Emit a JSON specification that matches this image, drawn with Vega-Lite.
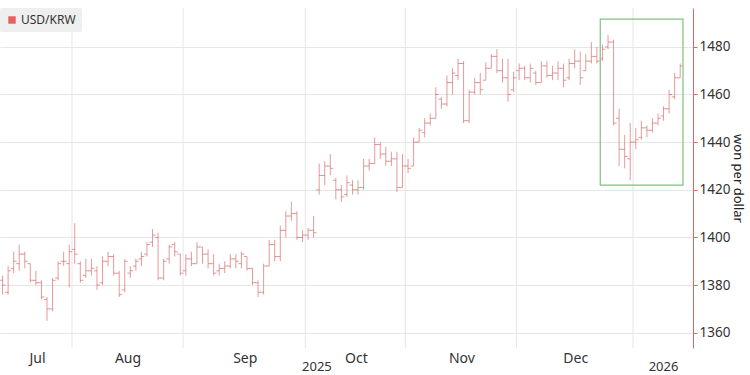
{
  "$schema": "https://vega.github.io/schema/vega-lite/v6.json",
  "width": 693,
  "height": 340,
  "autosize": "none",
  "padding": {"left": 0, "top": 8, "right": 57, "bottom": 27},
  "background": "white",
  "config": {
    "view": {"stroke": null},
    "font": "Noto Sans"
  },
  "datasets": {
    "fx": [
      {"d":"2025-07-15","i":0,"o":1382,"h":1384,"l":1376,"c":1380},
      {"d":"2025-07-16","i":1,"o":1377,"h":1388,"l":1376,"c":1386},
      {"d":"2025-07-17","i":2,"o":1387,"h":1394,"l":1385,"c":1390},
      {"d":"2025-07-18","i":3,"o":1389,"h":1397,"l":1386,"c":1393},
      {"d":"2025-07-21","i":4,"o":1393,"h":1394,"l":1387,"c":1390},
      {"d":"2025-07-22","i":5,"o":1389,"h":1389,"l":1381,"c":1382},
      {"d":"2025-07-23","i":6,"o":1382,"h":1386,"l":1380,"c":1381},
      {"d":"2025-07-24","i":7,"o":1381,"h":1382,"l":1374,"c":1375},
      {"d":"2025-07-25","i":8,"o":1374,"h":1375,"l":1365,"c":1370},
      {"d":"2025-07-28","i":9,"o":1370,"h":1383,"l":1369,"c":1382},
      {"d":"2025-07-29","i":10,"o":1383,"h":1390,"l":1382,"c":1389},
      {"d":"2025-07-30","i":11,"o":1390,"h":1394,"l":1388,"c":1390},
      {"d":"2025-07-31","i":12,"o":1389,"h":1397,"l":1379,"c":1394},
      {"d":"2025-08-01","i":13,"o":1395,"h":1406,"l":1389,"c":1393},
      {"d":"2025-08-04","i":14,"o":1389,"h":1390,"l":1381,"c":1382},
      {"d":"2025-08-05","i":15,"o":1384,"h":1391,"l":1383,"c":1386},
      {"d":"2025-08-06","i":16,"o":1386,"h":1391,"l":1384,"c":1387},
      {"d":"2025-08-07","i":17,"o":1386,"h":1388,"l":1378,"c":1380},
      {"d":"2025-08-08","i":18,"o":1381,"h":1392,"l":1380,"c":1390},
      {"d":"2025-08-11","i":19,"o":1390,"h":1394,"l":1388,"c":1392},
      {"d":"2025-08-12","i":20,"o":1392,"h":1393,"l":1384,"c":1385},
      {"d":"2025-08-13","i":21,"o":1385,"h":1386,"l":1375,"c":1376},
      {"d":"2025-08-14","i":22,"o":1378,"h":1391,"l":1377,"c":1390},
      {"d":"2025-08-18","i":23,"o":1385,"h":1388,"l":1383,"c":1386},
      {"d":"2025-08-19","i":24,"o":1388,"h":1391,"l":1386,"c":1390},
      {"d":"2025-08-20","i":25,"o":1391,"h":1394,"l":1388,"c":1392},
      {"d":"2025-08-21","i":26,"o":1393,"h":1398,"l":1392,"c":1397},
      {"d":"2025-08-22","i":27,"o":1398,"h":1403.5,"l":1396,"c":1401},
      {"d":"2025-08-25","i":28,"o":1400,"h":1402,"l":1382,"c":1383},
      {"d":"2025-08-26","i":29,"o":1383,"h":1391,"l":1382,"c":1390},
      {"d":"2025-08-27","i":30,"o":1391,"h":1397,"l":1389,"c":1396},
      {"d":"2025-08-28","i":31,"o":1397,"h":1398,"l":1392,"c":1394},
      {"d":"2025-08-29","i":32,"o":1393,"h":1393,"l":1384,"c":1385},
      {"d":"2025-09-01","i":33,"o":1386,"h":1393,"l":1384,"c":1391},
      {"d":"2025-09-02","i":34,"o":1391,"h":1394,"l":1388,"c":1389},
      {"d":"2025-09-03","i":35,"o":1389,"h":1398,"l":1389,"c":1396},
      {"d":"2025-09-04","i":36,"o":1396,"h":1396,"l":1389,"c":1393},
      {"d":"2025-09-05","i":37,"o":1393,"h":1395,"l":1387,"c":1389},
      {"d":"2025-09-08","i":38,"o":1389,"h":1393,"l":1384,"c":1385},
      {"d":"2025-09-09","i":39,"o":1386,"h":1389,"l":1384,"c":1387},
      {"d":"2025-09-10","i":40,"o":1387,"h":1390,"l":1385,"c":1388},
      {"d":"2025-09-11","i":41,"o":1388,"h":1393,"l":1387,"c":1391},
      {"d":"2025-09-12","i":42,"o":1391,"h":1393,"l":1387,"c":1390},
      {"d":"2025-09-15","i":43,"o":1389,"h":1394,"l":1387,"c":1393},
      {"d":"2025-09-16","i":44,"o":1392,"h":1392,"l":1386,"c":1387},
      {"d":"2025-09-17","i":45,"o":1387,"h":1387,"l":1380,"c":1381},
      {"d":"2025-09-18","i":46,"o":1381,"h":1382,"l":1375,"c":1377},
      {"d":"2025-09-19","i":47,"o":1377,"h":1389,"l":1376,"c":1388},
      {"d":"2025-09-22","i":48,"o":1388,"h":1399,"l":1388,"c":1397},
      {"d":"2025-09-23","i":49,"o":1397,"h":1399,"l":1390,"c":1392},
      {"d":"2025-09-24","i":50,"o":1392,"h":1405,"l":1390,"c":1403},
      {"d":"2025-09-25","i":51,"o":1403,"h":1411,"l":1400,"c":1409},
      {"d":"2025-09-26","i":52,"o":1409,"h":1415,"l":1407,"c":1410},
      {"d":"2025-09-29","i":53,"o":1410,"h":1411,"l":1399,"c":1400},
      {"d":"2025-09-30","i":54,"o":1400,"h":1403,"l":1398,"c":1401},
      {"d":"2025-10-01","i":55,"o":1401,"h":1404,"l":1399,"c":1403},
      {"d":"2025-10-02","i":56,"o":1403,"h":1409,"l":1400,"c":1402},
      {"d":"2025-10-10","i":57,"o":1420,"h":1431,"l":1418,"c":1426},
      {"d":"2025-10-13","i":58,"o":1426,"h":1432,"l":1422,"c":1430},
      {"d":"2025-10-14","i":59,"o":1430,"h":1435,"l":1426,"c":1429},
      {"d":"2025-10-15","i":60,"o":1424,"h":1425,"l":1416,"c":1420},
      {"d":"2025-10-16","i":61,"o":1420,"h":1422,"l":1415,"c":1417},
      {"d":"2025-10-17","i":62,"o":1418,"h":1426,"l":1417,"c":1423},
      {"d":"2025-10-20","i":63,"o":1422,"h":1424,"l":1418,"c":1420},
      {"d":"2025-10-21","i":64,"o":1420,"h":1424,"l":1418,"c":1421},
      {"d":"2025-10-22","i":65,"o":1421,"h":1433,"l":1420,"c":1430},
      {"d":"2025-10-23","i":66,"o":1430,"h":1433,"l":1428,"c":1431},
      {"d":"2025-10-24","i":67,"o":1431,"h":1442,"l":1431,"c":1439},
      {"d":"2025-10-27","i":68,"o":1439,"h":1440,"l":1433,"c":1435},
      {"d":"2025-10-28","i":69,"o":1435,"h":1438,"l":1430,"c":1432},
      {"d":"2025-10-29","i":70,"o":1432,"h":1436,"l":1430,"c":1433},
      {"d":"2025-10-30","i":71,"o":1433,"h":1436,"l":1419,"c":1421},
      {"d":"2025-10-31","i":72,"o":1421,"h":1435,"l":1421,"c":1430},
      {"d":"2025-11-03","i":73,"o":1430,"h":1433,"l":1427,"c":1429},
      {"d":"2025-11-04","i":74,"o":1430,"h":1442,"l":1430,"c":1440},
      {"d":"2025-11-05","i":75,"o":1440,"h":1446,"l":1440,"c":1445},
      {"d":"2025-11-06","i":76,"o":1444,"h":1450,"l":1442,"c":1448},
      {"d":"2025-11-07","i":77,"o":1448,"h":1452,"l":1447,"c":1450},
      {"d":"2025-11-10","i":78,"o":1450,"h":1463,"l":1450,"c":1460},
      {"d":"2025-11-11","i":79,"o":1458,"h":1459,"l":1454,"c":1456},
      {"d":"2025-11-12","i":80,"o":1456,"h":1468,"l":1455,"c":1465},
      {"d":"2025-11-13","i":81,"o":1465,"h":1471,"l":1460,"c":1469},
      {"d":"2025-11-14","i":82,"o":1468,"h":1475,"l":1466,"c":1473},
      {"d":"2025-11-17","i":83,"o":1473,"h":1474,"l":1448,"c":1449},
      {"d":"2025-11-18","i":84,"o":1449,"h":1462,"l":1448,"c":1461},
      {"d":"2025-11-19","i":85,"o":1461,"h":1467,"l":1460,"c":1465},
      {"d":"2025-11-20","i":86,"o":1465,"h":1469,"l":1460,"c":1462},
      {"d":"2025-11-21","i":87,"o":1466,"h":1473.5,"l":1466,"c":1471},
      {"d":"2025-11-24","i":88,"o":1471,"h":1477,"l":1471,"c":1476},
      {"d":"2025-11-25","i":89,"o":1476,"h":1479,"l":1469,"c":1470},
      {"d":"2025-11-26","i":90,"o":1470,"h":1475,"l":1465,"c":1467},
      {"d":"2025-11-27","i":91,"o":1467,"h":1475,"l":1457,"c":1460},
      {"d":"2025-11-28","i":92,"o":1462,"h":1469.5,"l":1461,"c":1467},
      {"d":"2025-12-01","i":93,"o":1470,"h":1473,"l":1466,"c":1471},
      {"d":"2025-12-02","i":94,"o":1471,"h":1472,"l":1466,"c":1467},
      {"d":"2025-12-03","i":95,"o":1467,"h":1473,"l":1465,"c":1471},
      {"d":"2025-12-04","i":96,"o":1469,"h":1470,"l":1464,"c":1465},
      {"d":"2025-12-05","i":97,"o":1465,"h":1474,"l":1465,"c":1472},
      {"d":"2025-12-08","i":98,"o":1472,"h":1474,"l":1467,"c":1468},
      {"d":"2025-12-09","i":99,"o":1468,"h":1472,"l":1466,"c":1469},
      {"d":"2025-12-10","i":100,"o":1469,"h":1474,"l":1466,"c":1471},
      {"d":"2025-12-11","i":101,"o":1471,"h":1473,"l":1463,"c":1466},
      {"d":"2025-12-12","i":102,"o":1467,"h":1475,"l":1466,"c":1473},
      {"d":"2025-12-15","i":103,"o":1473,"h":1479,"l":1471,"c":1474},
      {"d":"2025-12-16","i":104,"o":1474,"h":1478,"l":1464,"c":1467},
      {"d":"2025-12-17","i":105,"o":1470,"h":1477,"l":1470,"c":1474},
      {"d":"2025-12-18","i":106,"o":1474,"h":1482,"l":1473,"c":1476},
      {"d":"2025-12-19","i":107,"o":1476,"h":1480,"l":1473,"c":1474},
      {"d":"2025-12-22","i":108,"o":1475,"h":1481,"l":1474,"c":1479},
      {"d":"2025-12-23","i":109,"o":1480,"h":1485,"l":1479,"c":1482},
      {"d":"2025-12-24","i":110,"o":1482,"h":1483,"l":1447,"c":1448},
      {"d":"2025-12-26","i":111,"o":1450,"h":1454,"l":1430,"c":1437},
      {"d":"2025-12-29","i":112,"o":1437,"h":1443,"l":1429,"c":1434},
      {"d":"2025-12-30","i":113,"o":1433,"h":1448,"l":1424,"c":1440},
      {"d":"2026-01-02","i":114,"o":1440,"h":1446,"l":1437,"c":1441},
      {"d":"2026-01-05","i":115,"o":1442,"h":1449,"l":1441,"c":1446},
      {"d":"2026-01-06","i":116,"o":1446,"h":1447,"l":1442,"c":1445},
      {"d":"2026-01-07","i":117,"o":1445,"h":1450,"l":1444,"c":1448},
      {"d":"2026-01-08","i":118,"o":1448,"h":1452,"l":1447,"c":1450},
      {"d":"2026-01-09","i":119,"o":1451,"h":1455,"l":1449,"c":1454},
      {"d":"2026-01-12","i":120,"o":1454,"h":1462,"l":1452,"c":1460},
      {"d":"2026-01-13","i":121,"o":1459,"h":1469,"l":1458,"c":1467},
      {"d":"2026-01-14","i":122,"o":1467,"h":1473,"l":1467,"c":1472}
    ],
    "months": [
      {"edge": 12.5}, {"edge": 32.5}, {"edge": 54.5}, {"edge": 72.5}, {"edge": 92.5}, {"edge": 113.5}
    ],
    "box": [
      {"from": 107.6, "to": 122.5, "lo": 1422, "hi": 1491.6}
    ]
  },
  "layer": [
    {
      "data": {"name": "months"},
      "mark": {"type": "rule", "color": "#e6e6e6", "strokeWidth": 1},
      "encoding": {
        "x": {
          "field": "edge", "type": "quantitative",
          "scale": {"domain": [-0.46, 124.3], "nice": false, "zero": false},
          "axis": {
            "orient": "bottom",
            "values": [6.2, 22.5, 43.6, 63.6, 82.6, 103.1],
            "labelExpr": "datum.value < 12 ? 'Jul' : datum.value < 30 ? 'Aug' : datum.value < 50 ? 'Sep' : datum.value < 70 ? 'Oct' : datum.value < 90 ? 'Nov' : 'Dec'",
            "domain": false, "ticks": false, "grid": false,
            "labelFontSize": 14, "labelColor": "#333", "labelPadding": 3,
            "labelFlush": false, "labelOverlap": false, "title": null
          }
        }
      }
    },
    {
      "data": {"name": "fx"},
      "mark": {"type": "rule", "strokeWidth": 1, "opacity": 0.6},
      "encoding": {
        "x": {
          "field": "i", "type": "quantitative",
          "axis": {
            "orient": "bottom",
            "values": [56.5, 118.9],
            "labelExpr": "datum.value < 100 ? '2025' : '2026'",
            "offset": 9, "domain": false, "ticks": false, "grid": false,
            "labelFontSize": 13, "labelColor": "#333", "labelPadding": 3,
            "labelFlush": false, "labelOverlap": false, "title": null
          }
        },
        "y": {
          "field": "l", "type": "quantitative",
          "scale": {"domain": [1353.6, 1496.3], "nice": false, "zero": false},
          "axis": {
            "orient": "right",
            "values": [1360, 1370, 1380, 1390, 1400, 1410, 1420, 1430, 1440, 1450, 1460, 1470, 1480, 1490],
            "format": "d",
            "labelExpr": "datum.value % 20 === 0 ? datum.label : ''",
            "grid": true, "gridColor": "#e6e6e6",
            "gridOpacity": {"condition": {"test": "datum.value % 20 === 0", "value": 1}, "value": 0},
            "domainColor": "#e06666", "tickColor": "#e06666", "tickSize": 4,
            "labelColor": "#333", "labelFontSize": 13.5, "labelPadding": 2,
            "title": "won per dollar", "titleFontSize": 13, "titleFontWeight": "normal",
            "titleColor": "#222", "titlePadding": 1
          }
        },
        "y2": {"field": "h"},
        "color": {
          "datum": "USD/KRW",
          "scale": {"range": ["#d05858"]},
          "legend": {
            "orient": "top-left", "offset": 0, "title": null, "padding": 6,
            "fillColor": "#efefef", "cornerRadius": 2,
            "symbolType": "square", "symbolSize": 55,
            "symbolFillColor": "#e8605e", "symbolStrokeWidth": 0, "symbolOpacity": 1,
            "labelFontSize": 12, "labelColor": "#333", "labelOffset": 3
          }
        }
      }
    },
    {
      "data": {"name": "fx"},
      "mark": {"type": "tick", "orient": "horizontal", "size": 3, "thickness": 1, "xOffset": -1.5, "color": "#d05858", "opacity": 0.6},
      "encoding": {
        "x": {"field": "i", "type": "quantitative", "axis": null},
        "y": {"field": "o", "type": "quantitative"}
      }
    },
    {
      "data": {"name": "fx"},
      "mark": {"type": "tick", "orient": "horizontal", "size": 3, "thickness": 1, "xOffset": 1.5, "color": "#d05858", "opacity": 0.6},
      "encoding": {
        "x": {"field": "i", "type": "quantitative", "axis": null},
        "y": {"field": "c", "type": "quantitative"}
      }
    },
    {
      "data": {"name": "box"},
      "mark": {"type": "rect", "fill": "transparent", "stroke": "#7cc27c", "strokeWidth": 1.2},
      "encoding": {
        "x": {"field": "from", "type": "quantitative", "axis": null},
        "x2": {"field": "to"},
        "y": {"field": "lo", "type": "quantitative"},
        "y2": {"field": "hi"}
      }
    }
  ],
  "resolve": {"axis": {"x": "independent"}}
}
